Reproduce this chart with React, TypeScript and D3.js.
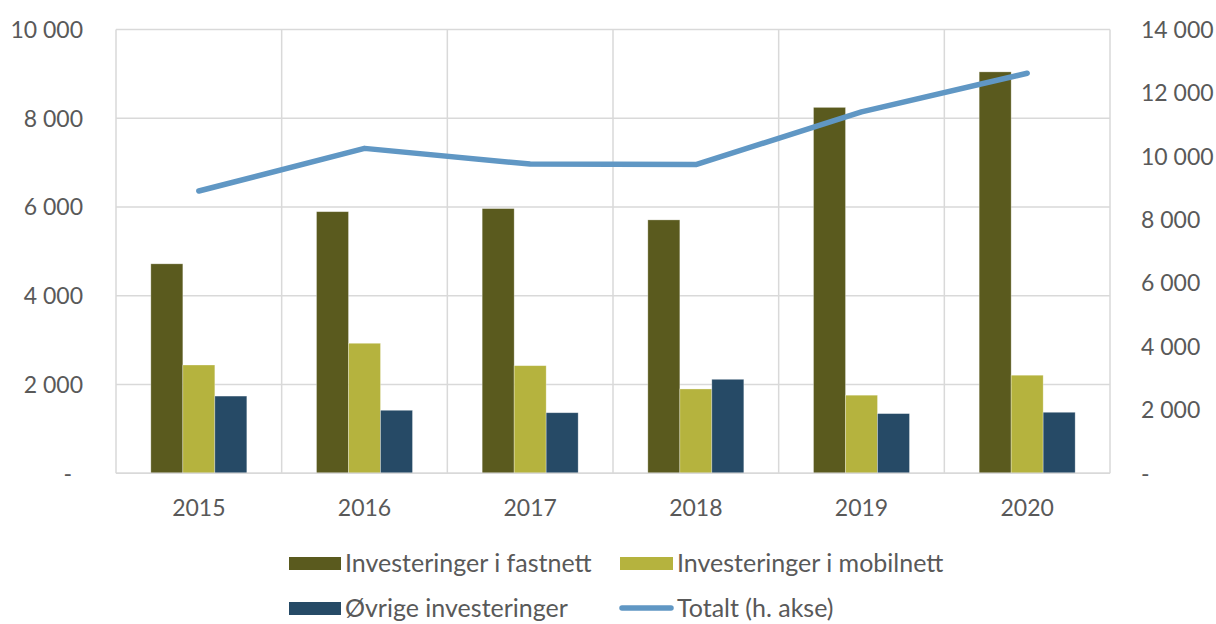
import React from "react";
import * as d3 from "d3";

const years = ["2015", "2016", "2017", "2018", "2019", "2020"];
const fastnett = [4720, 5895, 5965, 5710, 8245, 9045];
const mobilnett = [2440, 2930, 2425, 1900, 1760, 2210];
const ovrige = [1740, 1420, 1365, 2118, 1345, 1375];
const totalt = [8905, 10250, 9755, 9740, 11400, 12620];
const leftTicks = [0, 2000, 4000, 6000, 8000, 10000];
const rightTicks = [0, 2000, 4000, 6000, 8000, 10000, 12000, 14000];
const seriesNames = ["Investeringer i fastnett", "Investeringer i mobilnett", "Øvrige investeringer"];
const lineName = "Totalt (h. akse)";
const colors = ["#5a5a1e", "#b5b33e", "#264a66"];
const lineColor = "#6097c4";

const W = 1216, H = 624;
const L = 116, R = 1110, T = 29.5, B = 473.3;
const font = "Lato, 'Open Sans', sans-serif";
const textColor = "#595959";
const gridColor = "#d9d9d9";

const fmt = (v: number) => (v === 0 ? "-" : d3.format(",")(v).replace(/,/g, " "));

export default function App() {
  const x = d3.scaleBand<string>().domain(years).range([L, R]).padding(0);
  const xs = d3.scaleBand<number>().domain([0, 1, 2]).range([0, x.bandwidth()]).paddingInner(0).paddingOuter(1.089);
  const yL = d3.scaleLinear().domain([0, 10000]).range([B, T]);
  const yR = d3.scaleLinear().domain([0, 14000]).range([B, T]);
  const series = [fastnett, mobilnett, ovrige];
  const line = d3.line<number>().x((_, i) => (x(years[i]) as number) + x.bandwidth() / 2).y((d) => yR(d));

  return (
    <svg width={W} height={H} style={{ position: "absolute", left: 0, top: 0, background: "#fff" }} fontFamily={font}>
      {leftTicks.map((t) => (
        <line key={"h" + t} x1={L} x2={R} y1={yL(t)} y2={yL(t)} stroke={gridColor} strokeWidth={1.5} />
      ))}
      {[...years.map((y) => x(y) as number), R].map((v, i) => (
        <line key={"v" + i} x1={v} x2={v} y1={T} y2={B} stroke={gridColor} strokeWidth={1.5} />
      ))}
      {series.map((s, si) =>
        s.map((v, i) => (
          <rect
            key={si + "-" + i}
            x={(x(years[i]) as number) + (xs(si) as number)}
            y={yL(v)}
            width={xs.bandwidth()}
            height={yL(0) - yL(v)}
            fill={colors[si]}
            stroke="#ffffff"
            strokeOpacity={0.4}
            strokeWidth={0.75}
          />
        ))
      )}
      <line x1={L} x2={R} y1={B} y2={B} stroke={gridColor} strokeWidth={1.5} />
      <path d={line(totalt) as string} fill="none" stroke={lineColor} strokeWidth={5.5} strokeLinecap="round" strokeLinejoin="round" />
      {leftTicks.map((t) => (
        <text key={"lt" + t} x={t === 0 ? 72 : 83} y={yL(t)} dy="0.36em" textAnchor="end" fontSize={23} fill={textColor}>
          {fmt(t)}
        </text>
      ))}
      {rightTicks.map((t) => (
        <text key={"rt" + t} x={1141} y={yR(t)} dy="0.36em" textAnchor="start" fontSize={23} fill={textColor}>
          {fmt(t)}
        </text>
      ))}
      {years.map((y) => (
        <text key={"y" + y} x={(x(y) as number) + x.bandwidth() / 2} y={508} dy="0.36em" textAnchor="middle" fontSize={23} fill={textColor}>
          {y}
        </text>
      ))}
      <g fontSize={25} fill={textColor}>
        <rect x={289} y={557} width={52} height={13} fill={colors[0]} />
        <text x={345} y={563} dy="0.36em">{seriesNames[0]}</text>
        <rect x={620} y={557} width={53} height={13} fill={colors[1]} />
        <text x={677} y={563} dy="0.36em">{seriesNames[1]}</text>
        <rect x={289} y={602} width={52} height={13} fill={colors[2]} />
        <text x={345} y={608} dy="0.36em">{seriesNames[2]}</text>
        <line x1={622} x2={671} y1={608} y2={608} stroke={lineColor} strokeWidth={5.5} strokeLinecap="round" />
        <text x={677} y={608} dy="0.36em">{lineName}</text>
      </g>
    </svg>
  );
}
